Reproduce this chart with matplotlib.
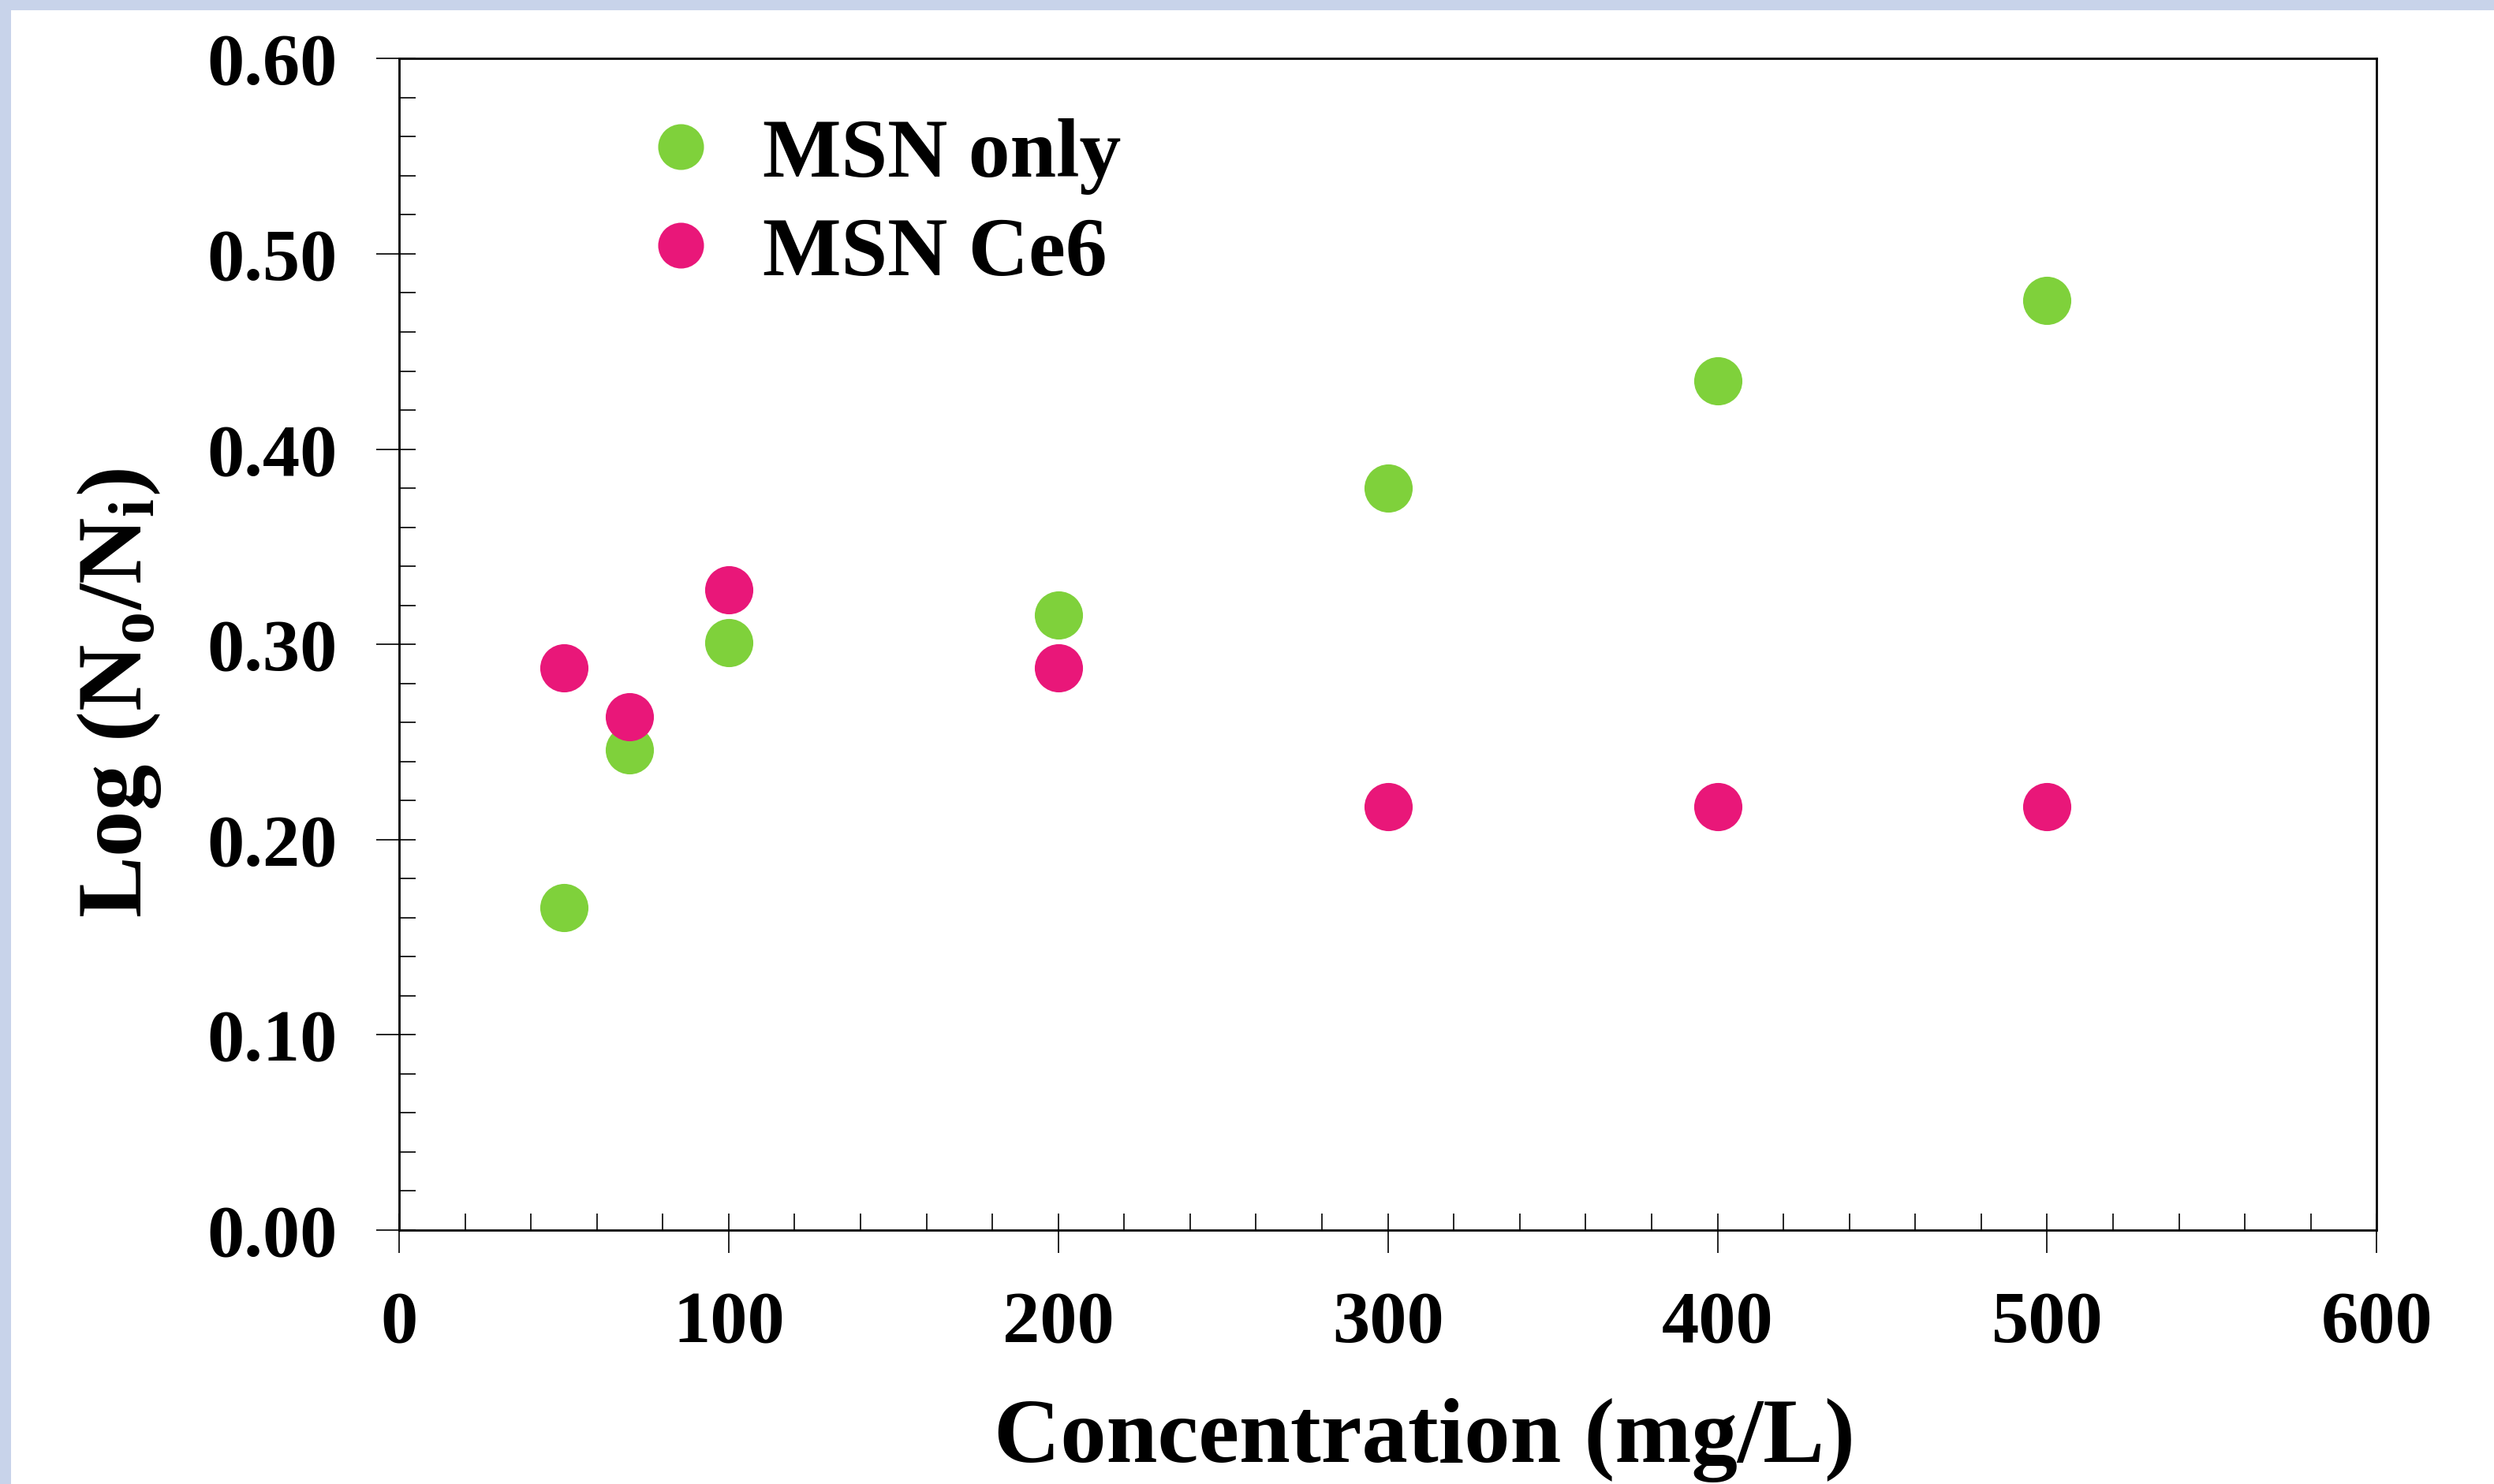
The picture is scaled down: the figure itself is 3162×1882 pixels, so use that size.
import matplotlib
matplotlib.use('Agg')
import matplotlib.pyplot as plt
from matplotlib.ticker import MultipleLocator, FormatStrFormatter
from matplotlib.patches import Rectangle

plt.rcParams['font.family'] = 'Liberation Serif'
plt.rcParams['font.weight'] = 'bold'
plt.rcParams['mathtext.fontset'] = 'custom'
plt.rcParams['mathtext.rm'] = 'Liberation Serif:bold'
plt.rcParams['mathtext.it'] = 'Liberation Serif:bold'
plt.rcParams['mathtext.bf'] = 'Liberation Serif:bold'

# data
conc = [50, 70, 100, 200, 300, 400, 500]
msn_only = [0.165, 0.246, 0.301, 0.315, 0.380, 0.435, 0.476]
msn_ce6 = [0.288, 0.263, 0.328, 0.288, 0.217, 0.217, 0.217]

green = '#7FD13B'
pink = '#E91779'

fig = plt.figure(figsize=(31.62, 18.83), dpi=100, facecolor='#C8D3EA')
# white page with a lavender strip at top and left
fig.add_artist(Rectangle((14 / 3162, 0), 1, 1 - 14 / 1883, transform=fig.transFigure,
                         facecolor='white', edgecolor='none', zorder=-10))

ax = fig.add_axes([0.160, 0.171, 0.793, 0.789])
ax.plot(conc, msn_only, 'o', color=green, markersize=44, markeredgewidth=0, label='MSN only', clip_on=False)
ax.plot(conc, msn_ce6, 'o', color=pink, markersize=44, markeredgewidth=0, label='MSN Ce6', clip_on=False)

ax.set_xlim(0, 600)
ax.set_ylim(0, 0.6)
ax.xaxis.set_major_locator(MultipleLocator(100))
ax.xaxis.set_minor_locator(MultipleLocator(20))
ax.yaxis.set_major_locator(MultipleLocator(0.1))
ax.yaxis.set_minor_locator(MultipleLocator(0.02))
ax.yaxis.set_major_formatter(FormatStrFormatter('%.2f'))
ax.xaxis.remove_overlapping_locs = False
ax.yaxis.remove_overlapping_locs = False

for s in ax.spines.values():
    s.set_linewidth(2.0)
ax.tick_params(which='major', direction='out', length=21, width=1.2, labelsize=68)
ax.tick_params(which='minor', direction='in', length=15, width=1.2)
ax.tick_params(axis='x', which='major', pad=34)
ax.tick_params(axis='y', which='major', pad=35)

fig.text(0.571, 0.0155, 'Concentration (mg/L)', fontsize=84, ha='center', va='baseline')
fig.text(0.048, 0.533, r'Log (N$_{\mathrm{o}}$/N$_{\mathrm{i}}$)', fontsize=84,
         rotation=90, ha='center', va='center')

ax.legend(loc='upper left', bbox_to_anchor=(0.1296, 0.950), frameon=False, fontsize=76,
          handlelength=0.6, handletextpad=0.69, borderpad=0, borderaxespad=0,
          labelspacing=0.27, markerscale=0.95)

fig.savefig('out.png', dpi=100, facecolor=fig.get_facecolor())
